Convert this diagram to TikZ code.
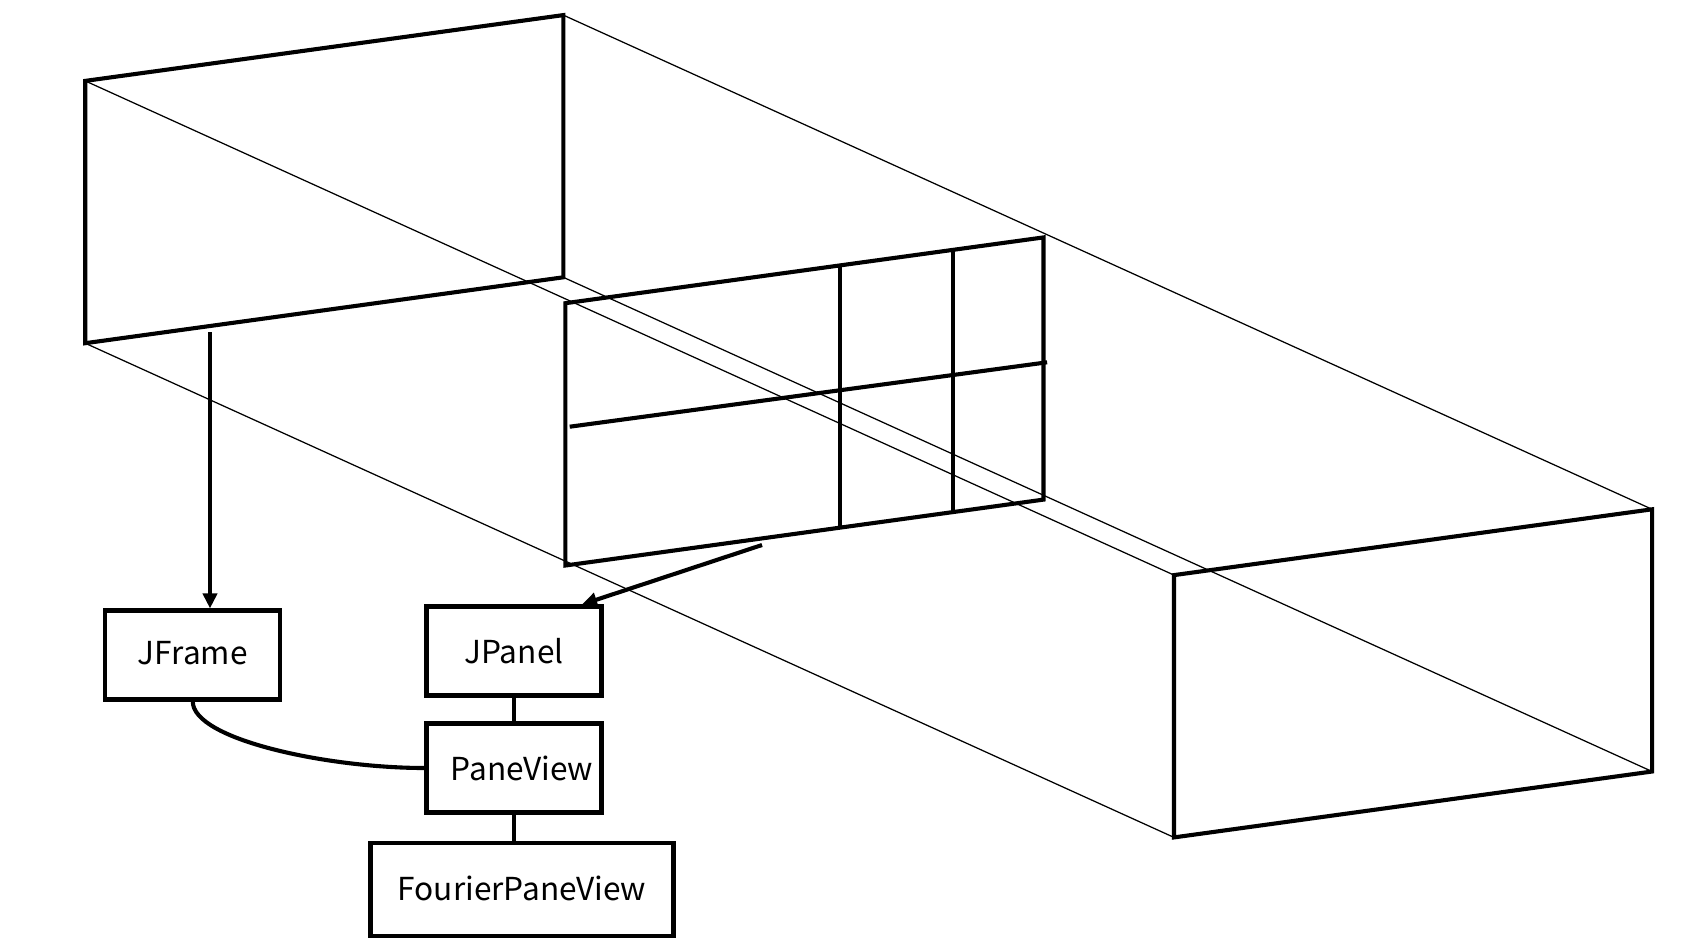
\documentclass[tikz,border=0pt]{standalone}
\usepackage{fontspec}
\setmainfont{Noto Sans CJK JP}
\usetikzlibrary{arrows.meta,calc}
\tikzset{
  thickline/.style={line width=0.082cm, line join=miter},
  thinline/.style={line width=0.025cm},
  box/.style={draw, line width=0.082cm, rectangle, inner sep=0pt, font=\fontsize{18pt}{21pt}\selectfont},
  arr/.style={line width=0.082cm, -{Triangle[length=0.3cm,width=0.28cm]}},
  link/.style={line width=0.082cm},
}
\begin{document}
\begin{tikzpicture}[x=0.02cm,y=-0.02cm]
\useasboundingbox (0,0) rectangle (1692,950);
% front face
\coordinate (FTL) at (85.2,80.9);
\coordinate (FTR) at (563.3,15.1);
\coordinate (FBR) at (563.3,277.3);
\coordinate (FBL) at (85.2,343.2);
% back face
\coordinate (BTL) at (1174,575.1);
\coordinate (BTR) at (1652.1,509.3);
\coordinate (BBR) at (1652.1,771.5);
\coordinate (BBL) at (1174,837.4);
% middle panel
\coordinate (MTL) at (565.4,303.2);
\coordinate (MTR) at (1043.5,237.4);
\coordinate (MBR) at (1043.5,499.6);
\coordinate (MBL) at (565.4,565.5);
% thin connecting edges
\draw[thinline] (FTL) -- (BTL);
\draw[thinline] (FTR) -- (BTR);
\draw[thinline] (FBR) -- (BBR);
\draw[thinline] (FBL) -- (BBL);
% faces
\draw[thickline] (FTL) -- (FTR) -- (FBR) -- (FBL) -- cycle;
\draw[thickline] (BTL) -- (BTR) -- (BBR) -- (BBL) -- cycle;
\draw[thickline] (MTL) -- (MTR) -- (MBR) -- (MBL) -- cycle;
% grid in middle panel
\draw[thickline] ($(MTL)!0.574!(MTR)$) -- ($(MBL)!0.574!(MBR)$);
\draw[thickline] ($(MTL)!0.81!(MTR)$) -- ($(MBL)!0.81!(MBR)$);
\coordinate (HL) at (569.7,426.7);
\coordinate (HR) at (1047.1,362.3);
\draw[thickline] (HL) -- (HR);
% class boxes
\node[box, minimum width=3.5cm, minimum height=1.78cm] (JF) at (192.8,655) {\raisebox{0.08cm}{JFrame}};
\node[box, minimum width=3.5cm, minimum height=1.78cm] (JP) at (514,651) {JPanel};
\node[box, minimum width=3.5cm, minimum height=1.78cm] (PV) at (514,768) {\hspace*{0.32cm}PaneView};
\node[box, minimum width=6.06cm, minimum height=1.87cm] (FP) at (522,889.5) {\raisebox{0.07cm}{FourierPaneView}};
% connectors
\coordinate (a1) at (210,332);
\draw[arr] (a1) -- (a1 |- JF.north);
\coordinate (a2) at (762,545);
\coordinate (a2e) at ($(JP.north east)+(-0.43cm,0)$);
\draw[arr] (a2) -- (a2e);
\draw[link] (JP.south) -- (PV.north);
\draw[link] (PV.south) -- (PV.south |- FP.north);
\draw[link] (JF.south) .. controls +(0,38) and +(-97,0) .. (PV.west);
\end{tikzpicture}
\end{document}
